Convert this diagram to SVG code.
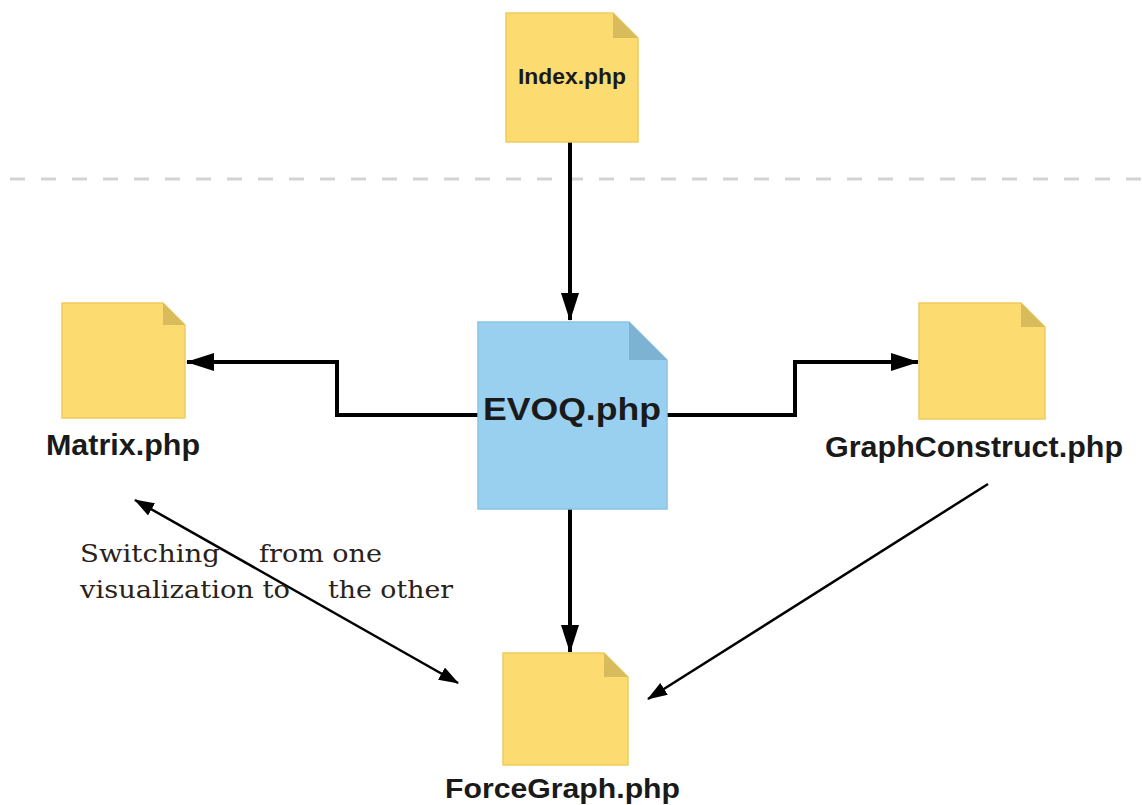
<svg xmlns="http://www.w3.org/2000/svg" width="1142" height="805" viewBox="0 0 1142 805">
<defs>
<style>
.doc{fill:#FCDB70;stroke:#EFCB5E;stroke-width:1.5}
.fold{fill:#D8BC5C}
.docb{fill:#99D0F0;stroke:#8AC3E4;stroke-width:1.5}
.foldb{fill:#7DB2D2}
.lbl{font-family:"Liberation Sans",Arial,sans-serif;font-weight:bold;fill:#1a1a1a}
.note{font-family:"DejaVu Serif","Liberation Serif",serif;font-size:25px;fill:#2a2218}
.conn{fill:none;stroke:#000;stroke-width:4}
.thin{fill:none;stroke:#000;stroke-width:2.5}
</style>
<marker id="ah" viewBox="0 0 28 18" refX="27" refY="9" markerWidth="28" markerHeight="18" markerUnits="userSpaceOnUse" orient="auto">
<path d="M0,0 L28,9 L0,18 Z" fill="#000"/>
</marker>
<marker id="as" viewBox="0 0 20 14" refX="19" refY="7" markerWidth="20" markerHeight="14" markerUnits="userSpaceOnUse" orient="auto">
<path d="M0,0 L20,7 L0,14 Z" fill="#000"/>
</marker>
<marker id="asr" viewBox="0 0 20 14" refX="1" refY="7" markerWidth="20" markerHeight="14" markerUnits="userSpaceOnUse" orient="auto">
<path d="M20,0 L0,7 L20,14 Z" fill="#000"/>
</marker>
</defs>
<rect width="1142" height="805" fill="#fff"/>
<line x1="10" y1="179" x2="1142" y2="179" stroke="#d3d3d3" stroke-width="3" stroke-dasharray="15 16"/>

<g id="connectors">
<line class="conn" x1="570" y1="142" x2="570" y2="320" marker-end="url(#ah)"/>
<polyline class="conn" points="478,415 337,415 337,362 187,362" marker-end="url(#ah)"/>
<polyline class="conn" points="667,415 795,415 795,362 918,362" marker-end="url(#ah)"/>
<line class="conn" x1="570" y1="509" x2="570" y2="652" marker-end="url(#ah)"/>
<line class="thin" x1="988" y1="484" x2="648" y2="699" marker-end="url(#as)"/>
<line class="thin" x1="135" y1="500" x2="458" y2="683" marker-start="url(#asr)" marker-end="url(#as)"/>
</g>

<g id="index">
<path class="doc" d="M506,13 H613 L638,38 V142 H506 Z"/>
<path class="fold" d="M613,13 L638,38 H613 Z"/>
<text class="lbl" x="518" y="84" font-size="22" textLength="108" lengthAdjust="spacingAndGlyphs">Index.php</text>
</g>

<g id="evoq">
<path class="docb" d="M478,322 H629 L667,360 V509 H478 Z"/>
<path class="foldb" d="M629,322 L667,360 H629 Z"/>
<text class="lbl" x="483" y="420" font-size="31" textLength="178" lengthAdjust="spacingAndGlyphs">EVOQ.php</text>
</g>

<g id="matrix">
<path class="doc" d="M62,303 H163 L185,325 V418 H62 Z"/>
<path class="fold" d="M163,303 L185,325 H163 Z"/>
<text class="lbl" x="46" y="455" font-size="30" textLength="154" lengthAdjust="spacingAndGlyphs">Matrix.php</text>
</g>

<g id="graphconstruct">
<path class="doc" d="M919,303 H1021 L1045,327 V419 H919 Z"/>
<path class="fold" d="M1021,303 L1045,327 H1021 Z"/>
<text class="lbl" x="825" y="457" font-size="29" textLength="298" lengthAdjust="spacingAndGlyphs">GraphConstruct.php</text>
</g>

<g id="forcegraph">
<path class="doc" d="M503,653 H604 L628,677 V765 H503 Z"/>
<path class="fold" d="M604,653 L628,677 H604 Z"/>
<text class="lbl" x="445" y="798" font-size="28" textLength="235" lengthAdjust="spacingAndGlyphs">ForceGraph.php</text>
</g>

<g id="note">
<text class="note" x="80" y="562" textLength="140" lengthAdjust="spacingAndGlyphs">Switching</text>
<text class="note" x="259" y="562" textLength="123" lengthAdjust="spacingAndGlyphs">from one</text>
<text class="note" x="80" y="598" textLength="210" lengthAdjust="spacingAndGlyphs">visualization to</text>
<text class="note" x="328" y="598" textLength="125" lengthAdjust="spacingAndGlyphs">the other</text>
</g>
</svg>
